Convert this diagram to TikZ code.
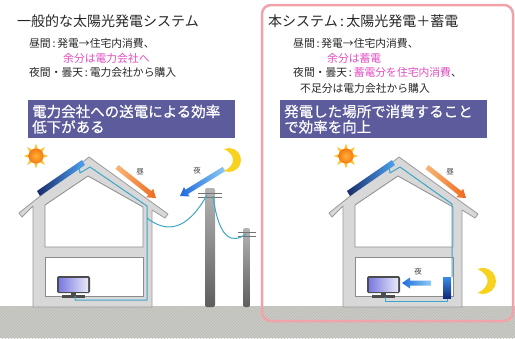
\documentclass[tikz,border=0pt]{standalone}
\usepackage{fontspec}
\newfontfamily\jp{Noto Sans CJK JP}
\newfontfamily\jpbanner[FakeBold=0.6]{Noto Sans CJK JP}
\usetikzlibrary{calc,patterns}

\definecolor{houseg}{HTML}{D8D8D8}
\definecolor{houseline}{HTML}{9A9A9A}
\definecolor{wirec}{HTML}{3CA6C8}
\definecolor{bannerc}{HTML}{5C5B9C}
\definecolor{pinktext}{HTML}{E24BC0}
\definecolor{framec}{HTML}{F2A3AA}
\definecolor{groundc}{HTML}{CBCBC4}
\definecolor{sunin}{HTML}{FFB23A}
\definecolor{sunout}{HTML}{F47A12}
\definecolor{rayc}{HTML}{F9C43A}
\definecolor{moonc}{HTML}{F7D21E}
\definecolor{panelL}{HTML}{1A2C6A}
\definecolor{panelR}{HTML}{4EA2F2}
\definecolor{dayA}{HTML}{F7B778}
\definecolor{dayB}{HTML}{EE6A1C}
\definecolor{nightA}{HTML}{8CCBF4}
\definecolor{nightB}{HTML}{1F6BDD}
\definecolor{screenA}{HTML}{7A7AE0}
\definecolor{screenB}{HTML}{E8E8FA}
\definecolor{battA}{HTML}{3C8CE8}
\definecolor{battB}{HTML}{0E2A78}
\definecolor{poleA}{HTML}{B4B4B4}
\definecolor{poleB}{HTML}{5E5E5E}

% fat shaded arrow: #1 shading, #2 tail, #3 head
\newcommand{\fatarrow}[3]{%
  \coordinate (fa-n) at ($(#3)!8pt!(#2)$);
  \shade[#1] ($(#2)!2.5pt!90:(#3)$) -- ($(fa-n)!2.5pt!90:(#3)$)
    -- ($(fa-n)!5.5pt!90:(#3)$) -- (#3) -- ($(fa-n)!5.5pt!-90:(#3)$)
    -- ($(fa-n)!2.5pt!-90:(#3)$) -- ($(#2)!2.5pt!-90:(#3)$) -- cycle;}
\newcommand{\sep}{\,:\,}

\begin{document}
\begin{tikzpicture}[x=1pt,y=-1pt,
  title/.style={anchor=west,inner sep=0pt,text=black!85,font=\jp\fontsize{14}{15}\selectfont},
  body/.style={anchor=west,inner sep=0pt,text=black!85,font=\jp\fontsize{10.8}{12}\selectfont},
  note/.style={body,text=pinktext},
  banner/.style={anchor=north west,fill=bannerc,text=white,inner sep=4pt,
    text width=199pt,minimum height=38pt,align=left,
    font=\jpbanner\fontsize{14.5}{15.5}\selectfont},
  tag/.style={inner sep=0pt,text=black!75,font=\jp\fontsize{7.5}{8}\selectfont},
  house/.style={fill=houseg,draw=houseline,line width=0.8pt,line join=round},
  room/.style={fill=white,draw=houseline!90!black,line width=0.8pt},
  wire/.style={draw=wirec,line width=1pt},
  tvframe/.style={fill=black!70},
  pole/.style={top color=poleA,bottom color=poleB,rounded corners=2pt},
  bar/.style={draw=black!55,line width=1pt},
  frame/.style={draw=framec,line width=2.5pt,rounded corners=9pt}]
\useasboundingbox (0,0) rectangle (515,338);

% ground
\fill[groundc] (0,306) rectangle (515,338);
\fill[pattern=north east lines,pattern color=gray!55] (0,306) rectangle (515,338);

% headings and notes
\node[title] (ttlL) at (17,21) {一般的な太陽光発電システム};
\node[body] (dayL) at (29,43) {昼間\sep 発電→住宅内消費、};
\node[note] (surL) at (63,58) {余分は電力会社へ};
\node[body] (nightL) at (29,72) {夜間・曇天\sep 電力会社から購入};

\node[title] (ttlR) at (268,21) {本システム\sep 太陽光発電＋蓄電};
\node[body] (dayR) at (293,43) {昼間\sep 発電→住宅内消費、};
\node[note] (surR) at (327,58) {余分は蓄電};
\node[body] (nightR) at (293,72) {夜間・曇天\sep\textcolor{pinktext}{蓄電分を住宅内消費}、};
\node[body] (buyR) at (300,88) {不足分は電力会社から購入};

\node[banner] (banL) at (28,100) {電力会社への送電による効率\\低下がある};
\node[banner] (banR) at (280,100) {発電した場所で消費すること\\で効率を向上};

% the two houses
\foreach \dx in {0,310}{
  \begin{scope}[shift={(\dx,0)}]
    \filldraw[house] (19,213) -- (89,157) -- (168,214) -- (165,218) -- (152,210)
      -- (152,307) -- (33,307) -- (33,206) -- (22,217) -- cycle;
    \filldraw[room] (45,205) -- (88,176) -- (143,207) -- (143,247) -- (45,247) -- cycle;
    \filldraw[room] (45,257) rectangle (143,296);
    % solar panel
    \shade[left color=panelL,right color=panelR] (37,191) -- (82,160) -- (85,165) -- (40,196) -- cycle;
    % tv
    \fill[tvframe,rounded corners=1.5pt] (57,276) rectangle (90,293);
    \shade[left color=screenA,right color=screenB] (59,278) rectangle (88,291);
    \fill[tvframe] (71,292) rectangle (76,295);
    \fill[tvframe] (62,294.5) rectangle (85,297.5);
    % sun
    \begin{scope}[shift={(36,156)}]
      \foreach \a in {0,45,...,315}
        \fill[rayc] (\a+16:7) -- (\a:12.5) -- (\a-16:7) -- cycle;
      \shade[inner color=sunin,outer color=sunout] (0,0) circle (7.5);
    \end{scope}
    % daytime arrow
    \coordinate (dayT) at (117,167);
    \coordinate (dayH) at (156,198);
    \fatarrow{left color=dayA,right color=dayB}{dayT}{dayH}
    \node[tag] (hiru\dx) at (140,172) {昼};
  \end{scope}}

% left: wiring out to the grid
\draw[wire,line join=round] (79,165) -- (80,173) -- (90,167) -- (147,206) -- (147,300) -- (75,300) -- (75,296);
\shade[pole] (205,307) -- (205,188) -- (215,188) -- (215,307) -- cycle;
\draw[bar] (198,193) -- (222,193);
\draw[bar] (198,197) -- (222,197);
\shade[pole] (243,307) -- (243,228) -- (250,228) -- (250,307) -- cycle;
\draw[bar] (238,232) -- (256,232);
\draw[bar] (238,236) -- (256,236);
\coordinate (wallL) at (147,218);
\coordinate (pole1a) at (207,195);
\coordinate (pole1b) at (213,196);
\coordinate (pole2) at (246,234);
\draw[wire] (wallL) .. controls (172,238) and (192,222) .. (pole1a);
\draw[wire] (pole1b) .. controls (219,240) and (232,244) .. (pole2);

% left: night arrow and moon
\coordinate (nightT) at (224,169);
\coordinate (nightH) at (180,196);
\fatarrow{left color=nightB,right color=nightA}{nightT}{nightH}
\node[tag] (yoruL) at (197,171) {夜};
\coordinate (moonL) at (229,160);
\fill[moonc] ($(moonL)+(115:12)$) arc[start angle=115,end angle=-115,radius=12]
  .. controls ($(moonL)+(7,-6)$) and ($(moonL)+(7,6)$) .. cycle;

% right: battery in the house
\draw[wire,line join=round] (389,165) -- (390,173) -- (400,167) -- (452,204) -- (452,277);
\draw[wire,line join=round] (447,298) -- (447,301) -- (385,301) -- (385,297);
\shade[top color=battA,bottom color=battB] (443,277) rectangle (451,298);
\coordinate (battT) at (431,283);
\coordinate (battH) at (402,283);
\fatarrow{left color=nightB,right color=nightA}{battT}{battH}
\node[tag] (yoruR) at (418,272) {夜};
\coordinate (moonR) at (483,281);
\fill[moonc] ($(moonR)+(115:13)$) arc[start angle=115,end angle=-115,radius=13]
  .. controls ($(moonR)+(8,-6)$) and ($(moonR)+(8,6)$) .. cycle;

% frame round the new system
\draw[frame] (262,5) rectangle (513,321);
\end{tikzpicture}
\end{document}
